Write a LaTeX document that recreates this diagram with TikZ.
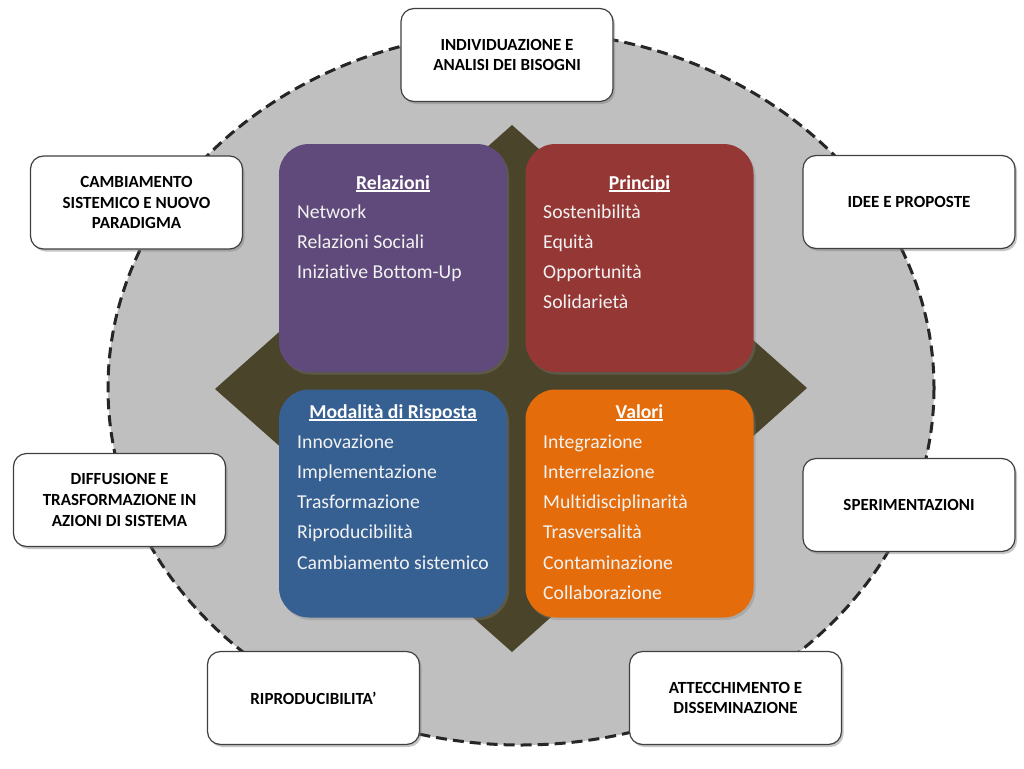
\documentclass[tikz,border=0pt]{standalone}
\usepackage{fontspec}
\setmainfont{Carlito}[Ligatures=NoCommon]
\usetikzlibrary{shadows}

\definecolor{ringgray}{HTML}{BFBFBF}
\definecolor{dashgray}{HTML}{262626}
\definecolor{olivedark}{HTML}{4A452A}
\definecolor{relpurple}{HTML}{604A7B}
\definecolor{prired}{HTML}{953735}
\definecolor{modblue}{HTML}{376092}
\definecolor{valorange}{HTML}{E46C0A}
\definecolor{boxline}{HTML}{404040}

% underline set close to the baseline
\newcommand{\qunder}[1]{{\setbox0\hbox{#1}\rlap{\rule[-2.6pt]{\wd0}{1.3pt}}\box0}}

\begin{document}
\begin{tikzpicture}[x=1pt,y=-1pt,
    stage/.style={draw=boxline, line width=1.2pt, fill=white, rounded corners=13pt,
      minimum width=212pt, minimum height=93pt, align=center, inner sep=0pt,
      font=\fontsize{17}{20.7}\selectfont\bfseries,
      drop shadow={shadow xshift=2pt, shadow yshift=-2.5pt, opacity=0.45}},
    quad/.style={rounded corners=30pt, minimum width=228pt, minimum height=228pt, inner sep=0pt,
      drop shadow={shadow xshift=2pt, shadow yshift=-2.5pt, opacity=0.35}},
    qtitle/.style={text=white, font=\fontsize{19.7}{23}\selectfont\bfseries, anchor=base, inner sep=0pt},
    qitem/.style={text=white!95!black, font=\fontsize{19.7}{23}\selectfont, anchor=base west, inner sep=0pt}]
  \useasboundingbox (0,0) rectangle (1024,768);

  % ring and cross
  \draw [dashgray, fill=ringgray, line width=3pt, dash pattern=on 11pt off 6pt]
    (521,388) ellipse [x radius=413, y radius=357];
  \fill [olivedark] (512,125) -- (807,388) -- (512,652) -- (215,389) -- cycle;

  % four quadrants
  \node [quad, fill=relpurple] (rel) at (393,258) {};
  \node [quad, fill=prired] (pri) at (639.5,258) {};
  \node [quad, fill=modblue] (mod) at (393,503.5) {};
  \node [quad, fill=valorange] (val) at (639.5,503.5) {};

  \node [qtitle] (reltitle) at (393,189) {\qunder{Relazioni}};
  \foreach \t [count=\i] in {Network,Relazioni Sociali,Iniziative Bottom-Up}
    \node [qitem] (rel\i) at (297,188+30.2*\i) {\t};

  \node [qtitle] (prititle) at (639.5,189) {\qunder{Principi}};
  \foreach \t [count=\i] in {Sostenibilità,Equità,Opportunità,Solidarietà}
    \node [qitem] (pri\i) at (543,188+30.2*\i) {\t};

  \node [qtitle] (modtitle) at (393,418) {\qunder{Modalità di Risposta}};
  \foreach \t [count=\i] in {Innovazione,Implementazione,Trasformazione,Riproducibilità,Cambiamento sistemico}
    \node [qitem] (mod\i) at (297,418+30.2*\i) {\t};

  \node [qtitle] (valtitle) at (639.5,418) {\qunder{Valori}};
  \foreach \t [count=\i] in {Integrazione,Interrelazione,Multidisciplinarità,Trasversalità,Contaminazione,Collaborazione}
    \node [qitem] (val\i) at (543,418+30.2*\i) {\t};

  % stages around the ring
  \node [stage] (needs) at (507,55) {INDIVIDUAZIONE E\\ANALISI DEI BISOGNI};
  \node [stage] (ideas) at (909,202) {IDEE E PROPOSTE};
  \node [stage] (trials) at (909,505) {SPERIMENTAZIONI};
  \node [stage] (rooting) at (735.5,698) {ATTECCHIMENTO E\\DISSEMINAZIONE};
  \node [stage] (repro) at (313.5,698) {RIPRODUCIBILITA’};
  \node [stage] (spread) at (119.5,500) {DIFFUSIONE E\\TRASFORMAZIONE IN\\AZIONI DI SISTEMA};
  \node [stage] (change) at (136.5,202.5) {CAMBIAMENTO\\SISTEMICO E NUOVO\\PARADIGMA};
\end{tikzpicture}
\end{document}
